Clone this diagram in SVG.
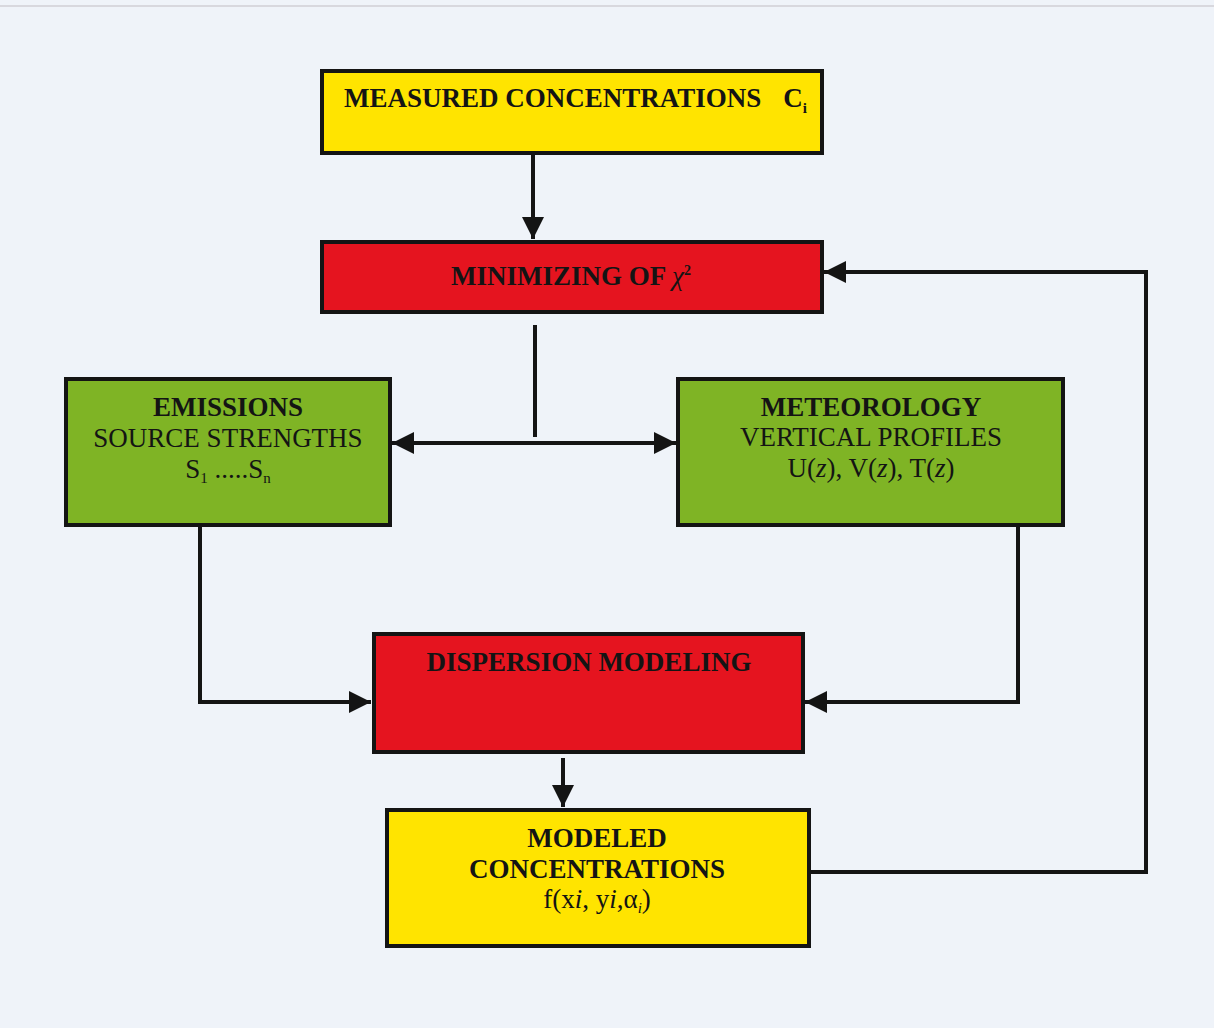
<svg xmlns="http://www.w3.org/2000/svg" width="1214" height="1028" viewBox="0 0 1214 1028">
<style>
.box{stroke:#141414;stroke-width:4}
.y{fill:#ffe400}
.r{fill:#e5141f}
.g{fill:#7fb425}
.t{font-family:"Liberation Serif","Times New Roman",serif;fill:#141414;text-anchor:middle;font-size:27px}
.s{text-anchor:start}
.b{font-weight:bold}
.c{fill:none;stroke:#141414;stroke-width:4}
</style>
<defs>
<marker id="ah" viewBox="0 0 10 10" refX="10" refY="5" markerWidth="6" markerHeight="5.5" markerUnits="strokeWidth" orient="auto">
<path d="M0,0 L10,5 L0,10 Z" fill="#141414"/>
</marker>
</defs>
<rect x="0" y="0" width="1214" height="1028" fill="#eff3f9"/>
<line x1="0" y1="6" x2="1214" y2="6" stroke="#d8d8de" stroke-width="2"/>
<g id="connectors">
<line class="c" x1="533" y1="155" x2="533" y2="239" marker-end="url(#ah)"/>
<line class="c" x1="535" y1="325" x2="535" y2="437"/>
<line class="c" x1="420" y1="443" x2="676" y2="443" marker-end="url(#ah)"/>
<line class="c" x1="560" y1="443" x2="392" y2="443" marker-end="url(#ah)"/>
<polyline class="c" points="200,527 200,702 371,702" marker-end="url(#ah)"/>
<polyline class="c" points="1018,527 1018,702 805,702" marker-end="url(#ah)"/>
<line class="c" x1="563" y1="758" x2="563" y2="807" marker-end="url(#ah)"/>
<polyline class="c" points="811,872 1146,872 1146,272 824,272" marker-end="url(#ah)"/>
</g>
<g id="measured">
<rect class="box y" x="322" y="71" width="500" height="82"/>
<text class="t b s" x="344" y="107">MEASURED CONCENTRATIONS<tspan dx="22">C</tspan><tspan font-size="15" dy="6">i</tspan></text>
</g>
<g id="minimizing">
<rect class="box r" x="322" y="242" width="500" height="70"/>
<text class="t b" x="571" y="285">MINIMIZING OF <tspan font-style="italic" font-weight="normal">χ</tspan><tspan font-size="14" dy="-10">2</tspan></text>
</g>
<g id="emissions">
<rect class="box g" x="66" y="379" width="324" height="146"/>
<text class="t b" x="228" y="416">EMISSIONS</text>
<text class="t" x="228" y="447">SOURCE STRENGTHS</text>
<text class="t" x="228" y="478">S<tspan font-size="15" dy="5">1</tspan><tspan dy="-5"> .....S</tspan><tspan font-size="15" dy="5">n</tspan></text>
</g>
<g id="meteorology">
<rect class="box g" x="678" y="379" width="385" height="146"/>
<text class="t b" x="871" y="416">METEOROLOGY</text>
<text class="t" x="871" y="446">VERTICAL PROFILES</text>
<text class="t" x="871" y="477">U(<tspan font-style="italic">z</tspan>), V(<tspan font-style="italic">z</tspan>), T(<tspan font-style="italic">z</tspan>)</text>
</g>
<g id="dispersion">
<rect class="box r" x="374" y="634" width="429" height="118"/>
<text class="t b" x="589" y="671">DISPERSION MODELING</text>
</g>
<g id="modeled">
<rect class="box y" x="387" y="810" width="422" height="136"/>
<text class="t b" x="597" y="847">MODELED</text>
<text class="t b" x="597" y="878">CONCENTRATIONS</text>
<text class="t" x="597" y="908">f(x<tspan font-style="italic">i</tspan>, y<tspan font-style="italic">i</tspan>,α<tspan font-size="15" dy="5" font-style="italic">i</tspan><tspan dy="-5">)</tspan></text>
</g>
</svg>
